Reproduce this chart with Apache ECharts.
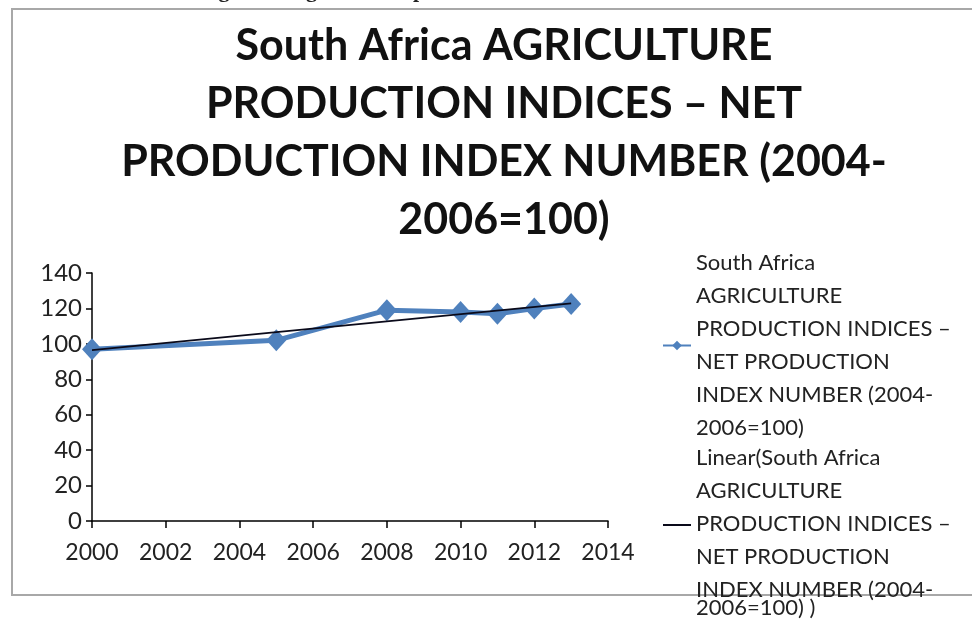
<!DOCTYPE html>
<html><head><meta charset="utf-8">
<script src="https://cdn.jsdelivr.net/npm/echarts@6/dist/echarts.min.js"></script>
<style>html,body{margin:0;padding:0;background:#fff}#c{width:972px;height:625px}</style>
</head><body><div id="c"></div>
<script>
const years = [2000, 2005, 2008, 2010, 2011, 2012, 2013];
const values = [97, 102, 119, 118, 117, 120, 122.5];
const trendYears = [2000, 2013];
const trendValues = [96.5, 122.8];
const titleLines = ['South Africa AGRICULTURE', 'PRODUCTION INDICES – NET', 'PRODUCTION INDEX NUMBER (2004-', '2006=100)'];
const seriesLines = ['South Africa', 'AGRICULTURE', 'PRODUCTION INDICES –', 'NET PRODUCTION', 'INDEX NUMBER (2004-', '2006=100)'];
const trendLines = ['Linear(South Africa', 'AGRICULTURE', 'PRODUCTION INDICES –', 'NET PRODUCTION', 'INDEX NUMBER (2004-', '2006=100) )'];
const caption = 'Figure 1: Agricultural production indices and trend line: South Africa';

const seriesName = seriesLines.join(' ');
const trendName = trendLines.join(' ');

const chart = echarts.init(document.getElementById('c'));
const font = 'Lato, "Open Sans", sans-serif';
chart.setOption({
  animation: false,
  backgroundColor: '#fff',
  title: {
    text: titleLines.join('\n'),
    left: 499, top: 12, textAlign: 'center',
    textStyle: {fontFamily: font, fontWeight: 'bold', fontSize: 43, lineHeight: 58, color: '#111'}
  },
  graphic: [
    {type: 'rect', shape: {x: 12, y: 9, width: 990, height: 586}, style: {fill: 'none', stroke: '#a8a8a8', lineWidth: 2}, z: -1},
    {type: 'text', x: 528, y: 2, style: {text: caption, font: 'bold 22px "Liberation Serif", serif', fill: '#222', textAlign: 'center', textVerticalAlign: 'bottom'}}
  ],
  grid: {left: 92, right: 364, top: 273, bottom: 104},
  xAxis: {
    type: 'value', min: 2000, max: 2014, interval: 2,
    axisLine: {show: true, lineStyle: {color: '#000', width: 1.5}},
    axisTick: {show: true, length: 7, lineStyle: {color: '#000', width: 1.5}},
    axisLabel: {fontFamily: font, fontSize: 23, color: '#222', margin: 20, formatter: v => String(v)},
    splitLine: {show: false}
  },
  yAxis: {
    type: 'value', min: 0, max: 140, interval: 20,
    axisLine: {show: true, lineStyle: {color: '#000', width: 1.5}},
    axisTick: {show: true, length: 6, lineStyle: {color: '#000', width: 1.5}},
    axisLabel: {fontFamily: font, fontSize: 24, color: '#222', margin: 10},
    splitLine: {show: false}
  },
  legend: {
    orient: 'vertical', left: 662, top: 252, height: 400, itemGap: 8,
    itemWidth: 28, itemHeight: 12, padding: 0,
    textStyle: {fontFamily: font, fontSize: 22, color: '#222',
      rich: {
        a: {fontFamily: font, fontSize: 22, lineHeight: 33, color: '#222'},
        c: {fontFamily: font, fontSize: 22, lineHeight: 33, color: '#222'},
        b: {fontFamily: font, fontSize: 22, lineHeight: 2, color: '#222'}
      }},
    formatter: function (name) {
      if (name === seriesName) return seriesLines.map(l => '{a|' + l + '}').join('\n');
      return trendLines.map((l, i) => (i === trendLines.length - 1 ? '{b|' : '{c|') + l + '}').join('\n');
    },
    data: [
      {name: seriesName},
      {name: trendName, itemStyle: {opacity: 0}}
    ]
  },
  series: [
    {
      name: seriesName, type: 'line',
      data: years.map((y, i) => [y, values[i]]),
      symbol: 'diamond', symbolSize: [20, 22],
      lineStyle: {color: '#4f81bd', width: 5},
      itemStyle: {color: '#4f81bd'},
      z: 2
    },
    {
      name: trendName, type: 'line',
      data: trendYears.map((y, i) => [y, trendValues[i]]),
      symbol: 'none',
      lineStyle: {color: '#0a0a1a', width: 1.8},
      itemStyle: {color: '#000'},
      z: 3
    }
  ]
});
</script></body></html>
